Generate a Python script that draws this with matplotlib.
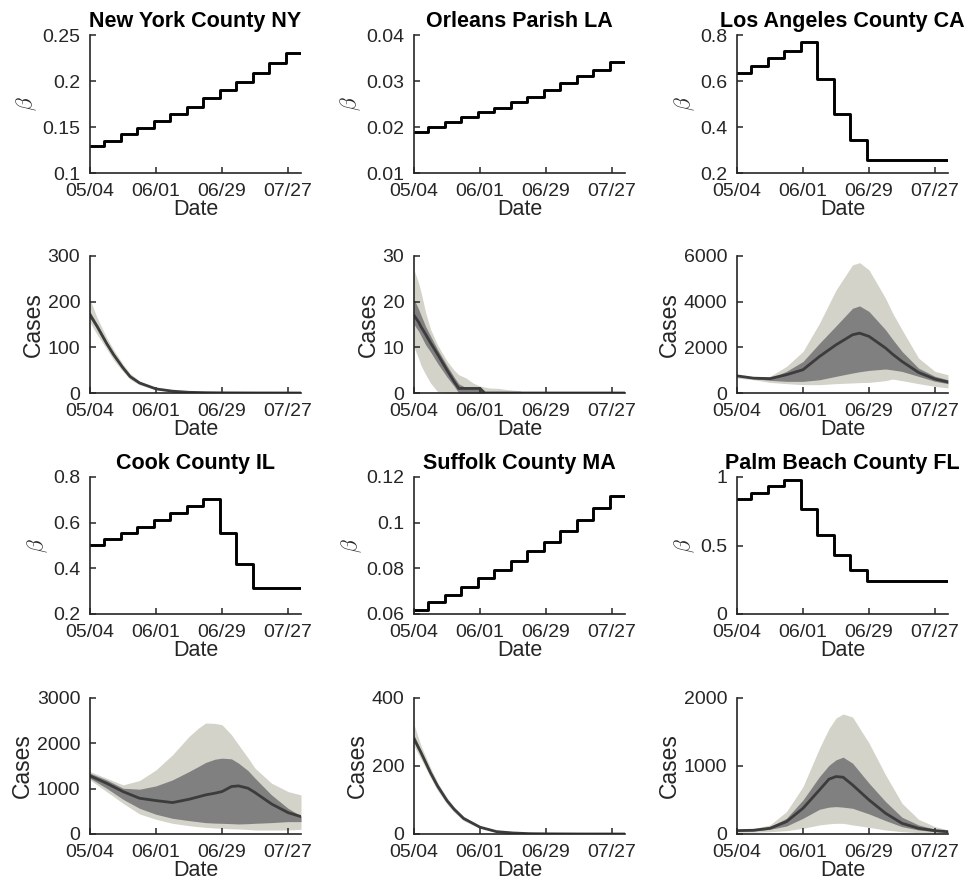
import matplotlib
matplotlib.use("Agg")
import matplotlib.pyplot as plt
from matplotlib.ticker import FuncFormatter

plt.rcParams['font.family'] = ['Liberation Sans', 'DejaVu Sans']
plt.rcParams['mathtext.fontset'] = 'cm'

# ---------------- data ----------------
counties = ["New York County NY", "Orleans Parish LA", "Los Angeles County CA",
            "Cook County IL", "Suffolk County MA", "Palm Beach County FL"]

x_tick_days = [0, 28, 56, 84]
x_tick_labels = ["05/04", "06/01", "06/29", "07/27"]
x_end = 89.5

# beta step functions: start day of each step and its value
ny_beta_days = [0, 6, 13, 20, 27, 34, 41, 48, 55, 62, 69, 76, 83]
ny_beta = [0.129, 0.135, 0.142, 0.149, 0.156, 0.164, 0.172, 0.181, 0.190, 0.199, 0.209, 0.220, 0.230]
orl_beta_days = [0, 6, 13, 20, 27, 34, 41, 48, 55, 62, 69, 76, 83]
orl_beta = [0.0190, 0.0200, 0.0211, 0.0221, 0.0232, 0.0242, 0.0255, 0.0266, 0.0281, 0.0295, 0.0310, 0.0324, 0.0341]
la_beta_days = [0, 6, 13, 20, 27, 34, 41, 48, 55]
la_beta = [0.633, 0.666, 0.699, 0.732, 0.771, 0.607, 0.456, 0.343, 0.257]
cook_beta_days = [0, 6, 13, 20, 27, 34, 41, 48, 55, 62, 69]
cook_beta = [0.501, 0.528, 0.555, 0.581, 0.611, 0.643, 0.673, 0.705, 0.555, 0.418, 0.312]
suf_beta_days = [0, 6, 13, 20, 27, 34, 41, 48, 55, 62, 69, 76, 83]
suf_beta = [0.0619, 0.0651, 0.0683, 0.0719, 0.0757, 0.0794, 0.0833, 0.0874, 0.0917, 0.0964, 0.1011, 0.1063, 0.1117]
pb_beta_days = [0, 6, 13, 20, 27, 34, 41, 48, 55]
pb_beta = [0.842, 0.886, 0.932, 0.976, 0.769, 0.575, 0.430, 0.320, 0.240]

beta_ylims = [(0.1, 0.25), (0.01, 0.04), (0.2, 0.8), (0.2, 0.8), (0.06, 0.12), (0, 1)]
beta_yticks = [[0.1, 0.15, 0.2, 0.25], [0.01, 0.02, 0.03, 0.04], [0.2, 0.4, 0.6, 0.8],
               [0.2, 0.4, 0.6, 0.8], [0.06, 0.08, 0.1, 0.12], [0, 0.5, 1]]

# cases: median, 50% band, 95% band
ny_days = [0, 3, 7, 10, 14, 17, 21, 28, 35, 42, 49, 56, 70, 89.5]
ny_med = [171, 146, 109, 84, 55, 36, 22, 9, 4, 1.5, 0.7, 0.3, 0.1, 0]
ny_hi50 = [178, 151, 113, 87, 58, 38, 23, 9.5, 4.3, 1.7, 0.8, 0.3, 0.1, 0]
ny_lo50 = [165, 141, 105, 81, 52, 34, 21, 8.5, 3.7, 1.3, 0.6, 0.2, 0.1, 0]
ny_hi95 = [205, 165, 122, 95, 63, 43, 26, 11, 5, 2, 1, 0.5, 0.2, 0]
ny_lo95 = [155, 128, 97, 72, 47, 30, 18, 7, 2.5, 1, 0.4, 0.1, 0, 0]

orl_days = [0, 2, 3, 5, 7, 10, 14, 17, 19, 22, 25, 28, 30, 32, 36, 40, 45, 46, 89.5]
orl_med = [17, 15.5, 14.5, 12.8, 11, 8.5, 5, 2.5, 1, 1, 1, 1, 0, 0, 0, 0, 0, 0, 0]
orl_hi50 = [20.5, 18.3, 17, 14.5, 12.5, 9.5, 6, 3.5, 2, 1.2, 1.1, 1.1, 0, 0, 0, 0, 0, 0, 0]
orl_lo50 = [15, 13.5, 12.5, 10.5, 9, 6.5, 3.5, 1.5, 0, 0, 0, 0, 0, 0, 0, 0, 0, 0, 0]
orl_hi95 = [27, 24, 22, 17.5, 14, 10.5, 7, 5, 4, 3.3, 2.2, 1.5, 1.3, 1.1, 1, 0.7, 0.5, 0, 0]
orl_lo95 = [10, 7.5, 6, 4, 2.2, 0.3, 0, 0, 0, 0, 0, 0, 0, 0, 0, 0, 0, 0, 0]

la_days = [0, 7, 14, 21, 28, 35, 42, 49, 52, 56, 63, 66, 70, 77, 84, 89.5]
la_med = [750, 650, 630, 800, 1020, 1600, 2110, 2550, 2620, 2480, 1970, 1700, 1380, 900, 610, 480]
la_hi50 = [750, 660, 655, 950, 1380, 2180, 2940, 3710, 3815, 3570, 2770, 2350, 1820, 1090, 730, 580]
la_lo50 = [730, 630, 555, 510, 510, 580, 730, 875, 930, 990, 1050, 1010, 945, 730, 510, 410]
la_hi95 = [775, 680, 730, 1165, 1820, 3060, 4510, 5610, 5710, 5390, 4150, 3500, 2770, 1530, 945, 800]
la_lo95 = [655, 580, 465, 410, 365, 365, 410, 440, 455, 465, 540, 610, 540, 410, 290, 220]

cook_days = [0, 7, 14, 21, 28, 35, 42, 46, 49, 53, 56, 60, 63, 67, 70, 77, 84, 89.5]
cook_med = [1282, 1120, 936, 789, 737, 693, 766, 820, 862, 900, 936, 1047, 1061, 1010, 914, 663, 472, 383]
cook_hi50 = [1341, 1194, 1010, 988, 1061, 1194, 1378, 1490, 1577, 1650, 1673, 1658, 1562, 1400, 1231, 862, 567, 398]
cook_lo50 = [1231, 1010, 766, 567, 435, 346, 295, 270, 251, 240, 236, 228, 221, 228, 236, 251, 273, 273]
cook_hi95 = [1378, 1231, 1083, 1179, 1415, 1747, 2152, 2336, 2447, 2440, 2410, 2189, 1968, 1680, 1452, 1120, 936, 862]
cook_lo95 = [1194, 936, 678, 442, 324, 236, 184, 160, 147, 132, 125, 115, 111, 100, 88, 88, 88, 103]

suf_days = [0, 3, 7, 10, 14, 17, 21, 28, 35, 42, 49, 56, 70, 89.5]
suf_med = [280, 239, 180, 141, 98, 73, 46, 20, 7, 3, 1, 0.5, 0.1, 0]
suf_hi50 = [290, 245, 185, 145, 101, 75, 48, 21, 7.5, 3.2, 1.1, 0.5, 0.1, 0]
suf_lo50 = [272, 233, 175, 137, 95, 70, 44, 19, 6.5, 2.8, 0.9, 0.4, 0.1, 0]
suf_hi95 = [322, 259, 195, 152, 107, 80, 52, 22, 9, 4, 1.5, 0.7, 0.2, 0]
suf_lo95 = [259, 220, 166, 128, 88, 64, 39, 17, 5, 2, 0.6, 0.3, 0, 0]

pb_days = [0, 7, 14, 21, 28, 35, 39, 42, 45, 49, 56, 63, 70, 77, 84, 89.5]
pb_med = [50, 55, 84, 182, 378, 649, 806, 845, 835, 722, 501, 305, 157, 84, 49, 34]
pb_hi50 = [55, 65, 108, 231, 501, 845, 1010, 1091, 1130, 1042, 747, 477, 246, 133, 69, 44]
pb_lo50 = [40, 45, 69, 118, 231, 364, 395, 403, 395, 378, 295, 197, 108, 59, 34, 20]
pb_hi95 = [60, 80, 133, 329, 698, 1263, 1550, 1705, 1765, 1720, 1337, 870, 452, 216, 108, 59]
pb_lo95 = [25, 28, 34, 49, 84, 133, 150, 157, 157, 133, 98, 59, 34, 20, 10, 10]

case_ylims = [(0, 300), (0, 30), (0, 6000), (0, 3000), (0, 400), (0, 2000)]
case_yticks = [[0, 100, 200, 300], [0, 10, 20, 30], [0, 2000, 4000, 6000],
               [0, 1000, 2000, 3000], [0, 200, 400], [0, 1000, 2000]]

betas = [(ny_beta_days, ny_beta), (orl_beta_days, orl_beta), (la_beta_days, la_beta),
         (cook_beta_days, cook_beta), (suf_beta_days, suf_beta), (pb_beta_days, pb_beta)]
cases = [(ny_days, ny_med, ny_lo50, ny_hi50, ny_lo95, ny_hi95),
         (orl_days, orl_med, orl_lo50, orl_hi50, orl_lo95, orl_hi95),
         (la_days, la_med, la_lo50, la_hi50, la_lo95, la_hi95),
         (cook_days, cook_med, cook_lo50, cook_hi50, cook_lo95, cook_hi95),
         (suf_days, suf_med, suf_lo50, suf_hi50, suf_lo95, suf_hi95),
         (pb_days, pb_med, pb_lo50, pb_hi50, pb_lo95, pb_hi95)]

# ---------------- layout ----------------
W, H = 974, 890
fig = plt.figure(figsize=(W / 100, H / 100), dpi=100)
col_left = [90, 414, 737]
ax_w = 211
beta_rows = [(35, 173), (477, 614)]
case_rows = [(256, 393), (698, 834)]

AX_COLOR = '#262626'
TICK_FS = 14
LABEL_FS = 15.5
fmt = FuncFormatter(lambda v, p: '%g' % v)


def make_ax(left, top, bottom):
    ax = fig.add_axes([left / W, 1 - bottom / H, ax_w / W, (bottom - top) / H])
    for s in ['top', 'right']:
        ax.spines[s].set_visible(False)
    for s in ['left', 'bottom']:
        ax.spines[s].set_linewidth(1.2)
        ax.spines[s].set_color(AX_COLOR)
    ax.tick_params(direction='in', length=4, width=1.1, colors=AX_COLOR,
                   labelsize=TICK_FS)
    ax.tick_params(axis='x', pad=7.5)
    ax.tick_params(axis='y', pad=7)
    ax.set_xlim(0, x_end)
    ax.set_xticks(x_tick_days)
    ax.set_xticklabels(x_tick_labels)
    ax.set_xlabel('Date', fontsize=LABEL_FS, color=AX_COLOR, labelpad=-1)
    ax.yaxis.set_major_formatter(fmt)
    return ax


for i in range(6):
    r, c = divmod(i, 3)
    left = col_left[c]
    # beta
    top, bottom = beta_rows[r]
    ax = make_ax(left, top, bottom)
    d, v = betas[i]
    ax.step(list(d) + [x_end], list(v) + [v[-1]], where='post', color='black', lw=2.1)
    ax.set_ylim(*beta_ylims[i])
    ax.set_yticks(beta_yticks[i])
    ax.set_ylabel(r'$\beta$', fontsize=LABEL_FS, color=AX_COLOR, labelpad=2)
    ax.set_title(counties[i], fontsize=LABEL_FS, fontweight='bold', pad=6)
    # cases
    top, bottom = case_rows[r]
    ax = make_ax(left, top, bottom)
    d, med, lo50, hi50, lo95, hi95 = cases[i]
    ax.fill_between(d, lo95, hi95, color='#d4d3c9', lw=0)
    ax.fill_between(d, lo50, hi50, color='#808080', lw=0)
    ax.plot(d, med, color='#3c3c3c', lw=2)
    ax.set_ylim(*case_ylims[i])
    ax.set_yticks(case_yticks[i])
    ax.set_ylabel('Cases', fontsize=LABEL_FS + 1, color=AX_COLOR, labelpad=2)

fig.savefig('out.png', dpi=100, facecolor='white')
